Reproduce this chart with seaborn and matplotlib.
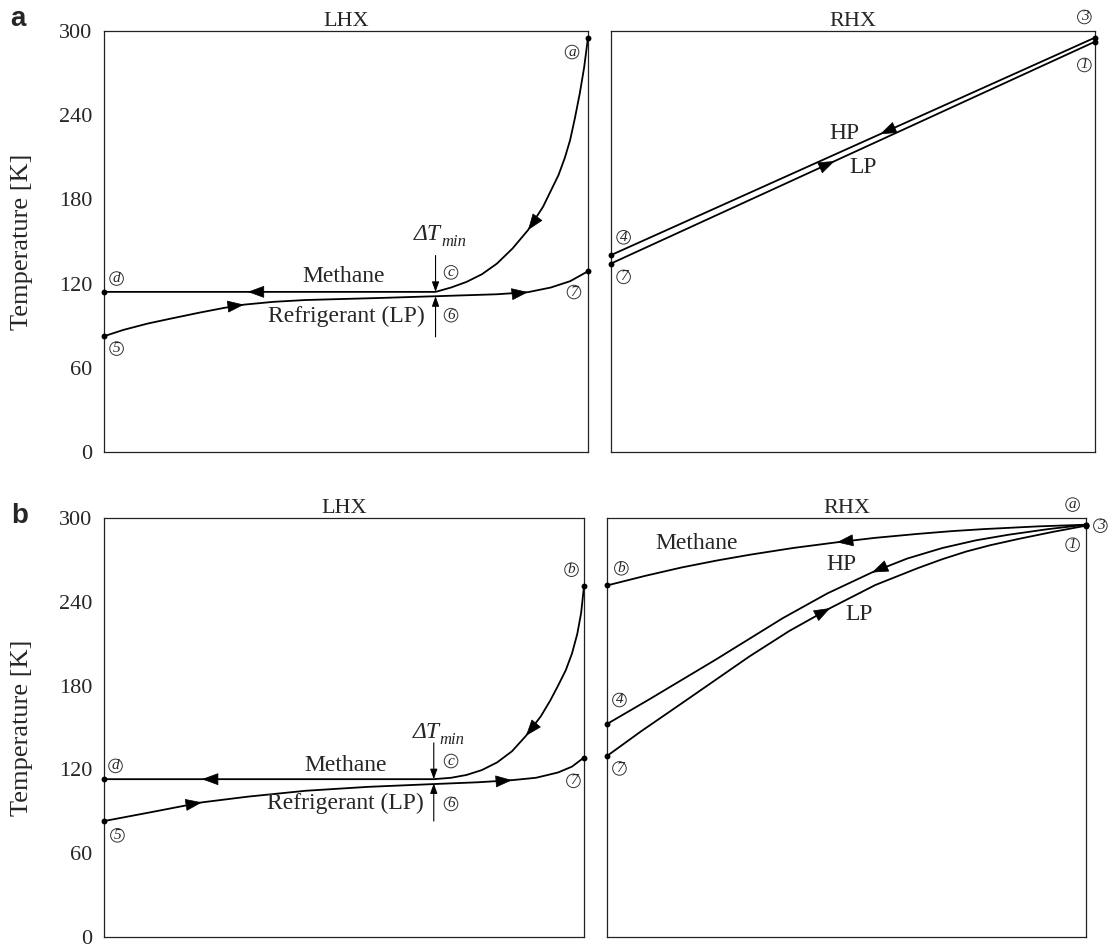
import numpy as np
import seaborn as sns
import matplotlib.pyplot as plt
from matplotlib.transforms import offset_copy

# --------------------------- STYLE ---------------------------
sns.set_theme(style="white")
plt.rcParams['font.family'] = ['Liberation Serif', 'DejaVu Serif']
plt.rcParams['axes.edgecolor'] = '#222222'
plt.rcParams['axes.linewidth'] = 0.9

# --------------------------- DATA ---------------------------
# x is the normalised position along each exchanger (0..1), T in K
# panel a, LHX
a_lhx_meth_x = [0, 0.297, 0.685, 0.717, 0.749, 0.781, 0.812, 0.844, 0.876, 0.907,
                0.939, 0.952, 0.963, 0.973, 0.983, 0.992, 1.0]
a_lhx_meth_T = [114.1, 114.1, 114.1, 117.2, 121.2, 126.7, 134.3, 145.0, 158.1, 174.7,
                197.3, 209.5, 222.2, 238.0, 255.5, 274.0, 295.3]
a_lhx_ref_x = [0, 0.04, 0.09, 0.14, 0.2, 0.25, 0.289, 0.35, 0.416, 0.574, 0.685,
               0.812, 0.876, 0.923, 0.963, 1.0]
a_lhx_ref_T = [82.5, 87.0, 91.5, 95.2, 99.5, 102.8, 105.0, 107.0, 108.3, 109.8, 111.0,
               112.4, 113.9, 117.2, 121.7, 128.8]
# panel a, RHX
a_rhx_hp_x = [0, 0.556, 1.0]
a_rhx_hp_T = [140.3, 226.5, 295.3]
a_rhx_lp_x = [0, 0.462, 1.0]
a_rhx_lp_T = [134.3, 207.3, 292.4]
# panel b, LHX
b_lhx_meth_x = [0, 0.204, 0.687, 0.723, 0.755, 0.787, 0.819, 0.85, 0.879, 0.91, 0.93,
                0.946, 0.962, 0.975, 0.986, 0.994, 1.0]
b_lhx_meth_T = [113, 113, 113, 114, 116, 119.5, 125, 133, 144, 158, 169.5, 180, 191,
                203, 217, 232, 251]
b_lhx_ref_x = [0, 0.1, 0.204, 0.3, 0.42, 0.55, 0.687, 0.78, 0.85, 0.9, 0.946, 0.975, 1.0]
b_lhx_ref_T = [83, 89.5, 96.4, 100.5, 104.7, 107.5, 109.5, 110.8, 112.3, 114, 117.8, 122, 128.5]
# panel b, RHX
b_rhx_meth_x = [0, 0.08, 0.156, 0.23, 0.3, 0.39, 0.48, 0.56, 0.648, 0.72, 0.789, 0.9, 1.0]
b_rhx_meth_T = [251.7, 258.6, 264.6, 269.6, 273.8, 278.6, 282.6, 285.8, 288.6, 290.6,
                292.1, 294.0, 295.2]
b_rhx_hp_x = [0, 0.086, 0.226, 0.367, 0.46, 0.553, 0.627, 0.7, 0.77, 0.838, 0.92, 1.0]
b_rhx_hp_T = [152.5, 169.7, 198.4, 228.3, 246, 261, 271, 278.5, 284, 288, 292, 295.2]
b_rhx_lp_x = [0, 0.07, 0.156, 0.22, 0.297, 0.38, 0.466, 0.56, 0.648, 0.7, 0.75, 0.8,
              0.859, 0.93, 1.0]
b_rhx_lp_T = [129.6, 147, 167.3, 182.5, 200.8, 219, 235.5, 252, 264, 270.5, 276, 280.5,
              285, 290, 294.5]

y_ticks = [0, 60, 120, 180, 240, 300]

# curves: (x, T, arrow point indices, flow direction +1 right / -1 left)
curves = {
    ('a', 'LHX'): [(a_lhx_meth_x, a_lhx_meth_T, [1, 8], -1),
                   (a_lhx_ref_x, a_lhx_ref_T, [6, 12], 1)],
    ('a', 'RHX'): [(a_rhx_hp_x, a_rhx_hp_T, [1], -1),
                   (a_rhx_lp_x, a_rhx_lp_T, [1], 1)],
    ('b', 'LHX'): [(b_lhx_meth_x, b_lhx_meth_T, [1, 8], -1),
                   (b_lhx_ref_x, b_lhx_ref_T, [2, 8], 1)],
    ('b', 'RHX'): [(b_rhx_meth_x, b_rhx_meth_T, [6], -1),
                   (b_rhx_hp_x, b_rhx_hp_T, [5], -1),
                   (b_rhx_lp_x, b_rhx_lp_T, [6], 1)],
}

# text labels (x, T, text)
labels = {
    ('a', 'LHX'): [(0.495, 124.8, 'Methane'), (0.5, 96.3, 'Refrigerant (LP)')],
    ('a', 'RHX'): [(0.483, 227, 'HP'), (0.521, 203, 'LP')],
    ('b', 'LHX'): [(0.503, 122.5, 'Methane'), (0.503, 95.4, 'Refrigerant (LP)')],
    ('b', 'RHX'): [(0.188, 282, 'Methane'), (0.49, 267, 'HP'), (0.527, 230.7, 'LP')],
}
# circled state points (x, T, text)
states = {
    ('a', 'LHX'): [(0.967, 285, 'a'), (0.717, 128, 'c'), (0.026, 123.6, 'd'),
                   (0.026, 73.7, '5'), (0.717, 97.5, '6'), (0.971, 114, '7')],
    ('a', 'RHX'): [(0.978, 310, '3'), (0.978, 275.8, '1'), (0.026, 153, '4'), (0.026, 124.8, '7')],
    ('b', 'LHX'): [(0.974, 263, 'b'), (0.723, 126, 'c'), (0.024, 122.5, 'd'),
                   (0.028, 72.8, '5'), (0.723, 95.3, '6'), (0.978, 111.8, '7')],
    ('b', 'RHX'): [(0.972, 309.6, 'a'), (1.03, 294.5, '3'), (0.972, 280.9, '1'),
                   (0.03, 264, 'b'), (0.026, 169.7, '4'), (0.026, 120.7, '7')],
}
# delta T_min marker: (x, T methane, T refrigerant, T top of arrow, T bottom of arrow, T text baseline)
dtmin = {
    'a': (0.685, 114.1, 111.0, 140, 82, 151),
    'b': (0.687, 113, 110, 139, 83, 142.5),
}

# axes rectangles in figure fraction (left, bottom, width, height)
W, H = 1109, 947
rects = {
    ('a', 'LHX'): (104 / W, 1 - 452 / H, 484 / W, 421 / H),
    ('a', 'RHX'): (611 / W, 1 - 452 / H, 484 / W, 421 / H),
    ('b', 'LHX'): (104 / W, 1 - 937 / H, 480 / W, 419 / H),
    ('b', 'RHX'): (607 / W, 1 - 937 / H, 479 / W, 419 / H),
}


# --------------------------- HELPERS ---------------------------
def flow_arrow(ax, xs, ts, i, direction):
    xs = np.asarray(xs, dtype=float)
    ts = np.asarray(ts, dtype=float)
    j0, j1 = max(i - 1, 0), min(i + 1, len(xs) - 1)
    dx, dt = xs[j1] - xs[j0], ts[j1] - ts[j0]
    tail = (xs[i] - 0.02 * direction * dx, ts[i] - 0.02 * direction * dt)
    ax.annotate('', xy=(xs[i], ts[i]), xytext=tail,
                arrowprops=dict(arrowstyle='-|>,head_length=0.6,head_width=0.22',
                                color='black', lw=0.5, shrinkA=0, shrinkB=0,
                                mutation_scale=18))


def circled(ax, x, t, s):
    ax.text(x, t, s, ha='center', va='center', fontsize=11, style='italic',
            clip_on=False,
            bbox=dict(boxstyle='circle,pad=0.02', fc='white', ec='#333333', lw=0.7))


# --------------------------- PLOT ---------------------------
fig = plt.figure(figsize=(W / 100, H / 100), dpi=100)

for key, rect in rects.items():
    panel, hx = key
    ax = fig.add_axes(rect)
    for xs, ts, arrows, direction in curves[key]:
        sns.lineplot(x=xs, y=ts, ax=ax, color='black', lw=1.3, sort=False,
                     estimator=None, legend=False)
        sns.scatterplot(x=[xs[0], xs[-1]], y=[ts[0], ts[-1]], ax=ax, color='black',
                        s=18, linewidth=0, zorder=5, clip_on=False, legend=False)
        for i in arrows:
            flow_arrow(ax, xs, ts, i, direction)

    for x, t, s in labels[key]:
        ax.text(x, t, s, ha='center', va='center', fontsize=17)
    for x, t, s in states[key]:
        circled(ax, x, t, s)

    if hx == 'LHX':
        xd, t_meth, t_ref, t_top, t_bot, t_txt = dtmin[panel]
        head = dict(arrowstyle='-|>,head_length=0.5,head_width=0.18', color='black',
                    lw=0.8, shrinkA=0, shrinkB=0, mutation_scale=12)
        ax.annotate('', xy=(xd, t_meth), xytext=(xd, t_top), arrowprops=head)
        ax.annotate('', xy=(xd, t_ref), xytext=(xd, t_bot), arrowprops=head)
        ax.text(xd, t_txt, '\u0394T', ha='right', va='baseline', fontsize=17, style='italic',
                transform=offset_copy(ax.transData, fig=fig, x=4, y=0, units='points'))
        ax.text(xd, t_txt, 'min', ha='left', va='baseline', fontsize=12, style='italic',
                transform=offset_copy(ax.transData, fig=fig, x=4, y=-4, units='points'))

    ax.set_xlim(0, 1)
    ax.set_ylim(0, 300)
    ax.set_xticks([])
    ax.set_yticks(y_ticks)
    ax.tick_params(axis='y', length=0, pad=8.5, labelsize=16)
    if hx == 'LHX':
        ax.set_ylabel('Temperature [K]', fontsize=19)
        ax.yaxis.set_label_coords(-0.147, 0.5)
    else:
        ax.set_yticklabels([])
        ax.set_ylabel('')
    ax.set_xlabel('')
    ax.set_title(hx, fontsize=16, pad=2)

fig.text(18 / W, 1 - 26 / H, 'a', ha='center', va='baseline', fontsize=20,
         fontweight='bold', family=['Liberation Sans', 'DejaVu Sans'])
fig.text(20 / W, 1 - 523 / H, 'b', ha='center', va='baseline', fontsize=20,
         fontweight='bold', family=['Liberation Sans', 'DejaVu Sans'])

fig.savefig('out.png', dpi=100)
